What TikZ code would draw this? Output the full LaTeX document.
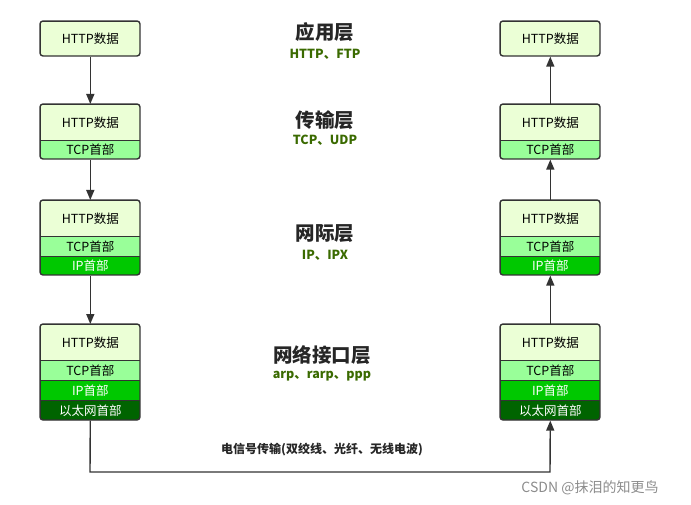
\documentclass[tikz,border=0pt]{standalone}
\usepackage{fontspec}
\setmainfont{Noto Sans CJK SC}
\usetikzlibrary{arrows.meta}
\definecolor{httpc}{HTML}{EBFFD6}
\definecolor{tcpc}{HTML}{99FF99}
\definecolor{ipc}{HTML}{00C800}
\definecolor{ethc}{HTML}{006400}
\definecolor{lbl}{HTML}{3A6A00}
\definecolor{bord}{HTML}{333333}
\begin{document}
\begin{tikzpicture}[x=1pt,y=-1pt,
  seg/.style={draw=bord,line width=0.6pt,minimum width=100pt,inner sep=0pt,font=\fontsize{12.5}{12.5}\selectfont,anchor=north west},
  http/.style={seg,fill=httpc,minimum height=36pt},
  tcp/.style={seg,fill=tcpc,minimum height=20pt},
  ip/.style={seg,fill=ipc,minimum height=20pt,text=white},
  eth/.style={seg,fill=ethc,minimum height=20pt,text=white},
  frame/.style={draw=bord,line width=1.4pt,rounded corners=3pt},
  arr/.style={-{Triangle[length=10pt,width=8pt]},line width=1.4pt,draw=bord},
  title/.style={font=\fontsize{19.5}{19.5}\selectfont\bfseries,text=black!85},
  sub/.style={font=\fontsize{12.5}{12.5}\selectfont\bfseries,text=lbl}]
\useasboundingbox (0,0) rectangle (691,505);
\foreach \X/\P in {40/L,500/R}{
 \begin{scope}
  \clip[rounded corners=3pt] (\X,21) rectangle ++(100,35);
  \node[http,minimum height=35pt] (\P1h) at (\X,21) {HTTP数据};
 \end{scope}
 \draw[frame] (\X,21) rectangle ++(100,35);
 \begin{scope}
  \clip[rounded corners=3pt] (\X,104) rectangle ++(100,55);
  \node[http] (\P2h) at (\X,104) {HTTP数据};
  \node[tcp,minimum height=19pt] (\P2t) at (\X,140) {TCP首部};
 \end{scope}
 \draw[frame] (\X,104) rectangle ++(100,55);
 \begin{scope}
  \clip[rounded corners=3pt] (\X,200) rectangle ++(100,75);
  \node[http] (\P3h) at (\X,200) {HTTP数据};
  \node[tcp] (\P3t) at (\X,236) {TCP首部};
  \node[ip,minimum height=19pt] (\P3i) at (\X,256) {IP首部};
 \end{scope}
 \draw[frame] (\X,200) rectangle ++(100,75);
 \begin{scope}
  \clip[rounded corners=3pt] (\X,324) rectangle ++(100,96);
  \node[http] (\P4h) at (\X,324) {HTTP数据};
  \node[tcp] (\P4t) at (\X,360) {TCP首部};
  \node[ip] (\P4i) at (\X,380) {IP首部};
  \node[eth] (\P4e) at (\X,400) {以太网首部};
 \end{scope}
 \draw[frame] (\X,324) rectangle ++(100,96);
}
\draw[arr] (L1h.south) -- (L2h.north);
\draw[arr] (L2t.south) -- (L3h.north);
\draw[arr] (L3i.south) -- (L4h.north);
\draw[arr] (R2h.north) -- (R1h.south);
\draw[arr] (R3h.north) -- (R2t.south);
\draw[arr] (R4h.north) -- (R3i.south);
\coordinate (c1) at (90,472);
\coordinate (c2) at (550,472);
\draw[arr] (L4e.south) -- (c1) -- (c2) -- (R4e.south);
\node[title] (t1) at (325,32) {应用层};
\node[sub] (s1) at (325,54) {HTTP、FTP};
\node[title] (t2) at (325,120) {传输层};
\node[sub] (s2) at (325,140) {TCP、UDP};
\node[title] (t3) at (325,234) {网际层};
\node[sub] (s3) at (325,255) {IP、IPX};
\node[title] (t4) at (322,355) {网络接口层};
\node[sub] (s4) at (322,376) {arp、rarp、ppp};
\node[font=\fontsize{12}{12}\selectfont\bfseries,text=black!85] (w) at (322,450) {电信号传输(双绞线、光纤、无线电波)};
\node[font=\fontsize{14}{14}\selectfont,text=black!45] (cs) at (590,488) {CSDN @抹泪的知更鸟};
\end{tikzpicture}
\end{document}
